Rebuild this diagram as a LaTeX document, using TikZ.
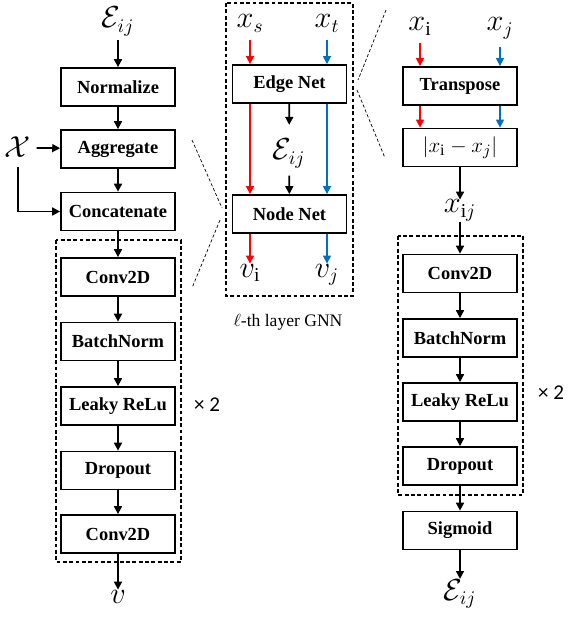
\documentclass[tikz,border=0pt]{standalone}
\usepackage{fontspec}
\setmainfont{Liberation Serif}
\newfontfamily\calib{Carlito}
\usetikzlibrary{arrows.meta}
\definecolor{xred}{RGB}{255,0,0}
\definecolor{xblue}{RGB}{0,112,192}
\tikzset{
  blk/.style={draw,line width=1pt,minimum width=2.28cm,minimum height=0.76cm,inner sep=0pt,font=\fontsize{10.5}{12}\selectfont\bfseries},
  lbl/.style={inner sep=0pt,anchor=base,font=\fontsize{16}{18}\selectfont},
  arr/.style={line width=1pt,-{Triangle[length=4.5pt,width=4.5pt]}},
  carr/.style={arr,line width=0.8pt},
  dbox/.style={line width=0.8pt,dash pattern=on 2.2pt off 1.4pt},
  zline/.style={line width=0.4pt,dash pattern=on 1.8pt off 1.2pt},
  rep/.style={font=\calib\fontsize{12}{14}\selectfont}
}
\begin{document}
\begin{tikzpicture}[x=0.02cm,y=-0.02cm]
	\useasboundingbox (0,0) rectangle (571,618);
	\node[lbl] (eL) at (118,28) {$\mathcal{E}_{ij}$};
	\foreach \n/\y/\t in {nrm/87/Normalize,agg/149/Aggregate,cat/211.5/Concatenate,cvA/277/Conv2D,bnA/341.5/BatchNorm,lrA/406/Leaky ReLu,doA/470.5/Dropout,cvB/534/Conv2D}
	    \node[blk] (\n) at (118,\y) {\t};
	\node[lbl] (vL) at (118,603) {$v$};
	\node[lbl] (chi) at (18,158) {$\mathcal{X}$};
	\draw[arr,shorten <=2pt] (eL) -- (nrm);
	\foreach \a/\b in {nrm/agg,agg/cat,cat/cvA,cvA/bnA,bnA/lrA,lrA/doA,doA/cvB,cvB/vL} {\draw[arr] (\a) -- (\b);}
	\draw[arr,shorten <=3pt] (chi) -- (agg);
	\draw[arr,shorten <=5pt] (chi.south) |- (cat);
	\draw[dbox] (56,240) rectangle (181,562);
	\node[rep] (repL) at (207,405) {× 2};
	\node[lbl] (xs) at (250,28) {$x_s$};
	\node[lbl] (xt) at (327,28) {$x_t$};
	\node[blk] (en) at (289.5,84) {Edge Net};
	\node[blk] (nn) at (289.5,214) {Node Net};
	\node[lbl] (eM) at (289,160) {$\mathcal{E}_{ij}$};
	\node[lbl] (vi) at (250,277) {$v_{\mathrm{i}}$};
	\node[lbl] (vj) at (327,277) {$v_j$};
	\draw[carr,xred,shorten <=4pt] (xs) -- (xs |- en.north);
	\draw[carr,xblue,shorten <=4pt] (xt) -- (xt |- en.north);
	\draw[carr,xred] (en.south -| xs) -- (nn.north -| xs);
	\draw[carr,xblue] (en.south -| xt) -- (nn.north -| xt);
	\draw[carr,xred] (nn.south -| xs) -- (vi);
	\draw[carr,xblue] (nn.south -| xt) -- (vj);
	\draw[arr,shorten >=8pt] (en) -- (eM);
	\draw[arr,shorten <=4pt] (eM) -- (nn);
	\draw[dbox] (226,3) rectangle (353,296);
	\node[font=\fontsize{10}{12}\selectfont] (cap) at (288,322) {$\ell$-th layer GNN};
	\node[lbl] (xi) at (420,31) {$x_{\mathrm{i}}$};
	\node[lbl] (xj) at (500,31) {$x_j$};
	\node[blk] (tr) at (460,86) {Transpose};
	\node[blk,font=\fontsize{13}{15}\selectfont] (df) at (460,147.5) {$|x_{\mathrm{i}}-x_j|$};
	\node[lbl] (xij) at (460,213) {$x_{\mathrm{i}j}$};
	\draw[carr,xred,shorten <=4pt] (xi) -- (xi |- tr.north);
	\draw[carr,xblue,shorten <=4pt] (xj) -- (xj |- tr.north);
	\draw[carr,xred] (tr.south -| xi) -- (df.north -| xi);
	\draw[carr,xblue] (tr.south -| xj) -- (df.north -| xj);
	\foreach \n/\y/\t in {cvC/273.5/Conv2D,bnC/338/BatchNorm,lrC/402/Leaky ReLu,doC/466/Dropout,sgC/530.5/Sigmoid}
	    \node[blk] (\n) at (460,\y) {\t};
	\node[lbl] (eR) at (460,600) {$\mathcal{E}_{ij}$};
	\foreach \a/\b in {df/xij,xij/cvC,cvC/bnC,bnC/lrC,lrC/doC,doC/sgC,sgC/eR} {\draw[arr] (\a) -- (\b);}
	\draw[dbox] (398,236) rectangle (523,495);
	\node[rep] (repR) at (551,393) {× 2};
	\draw[zline] (192,140) -- (222,208) (220,220) -- (192,288);
	\draw[zline] (386,10) -- (358,80) (357,90) -- (385,158);
\end{tikzpicture}
\end{document}
